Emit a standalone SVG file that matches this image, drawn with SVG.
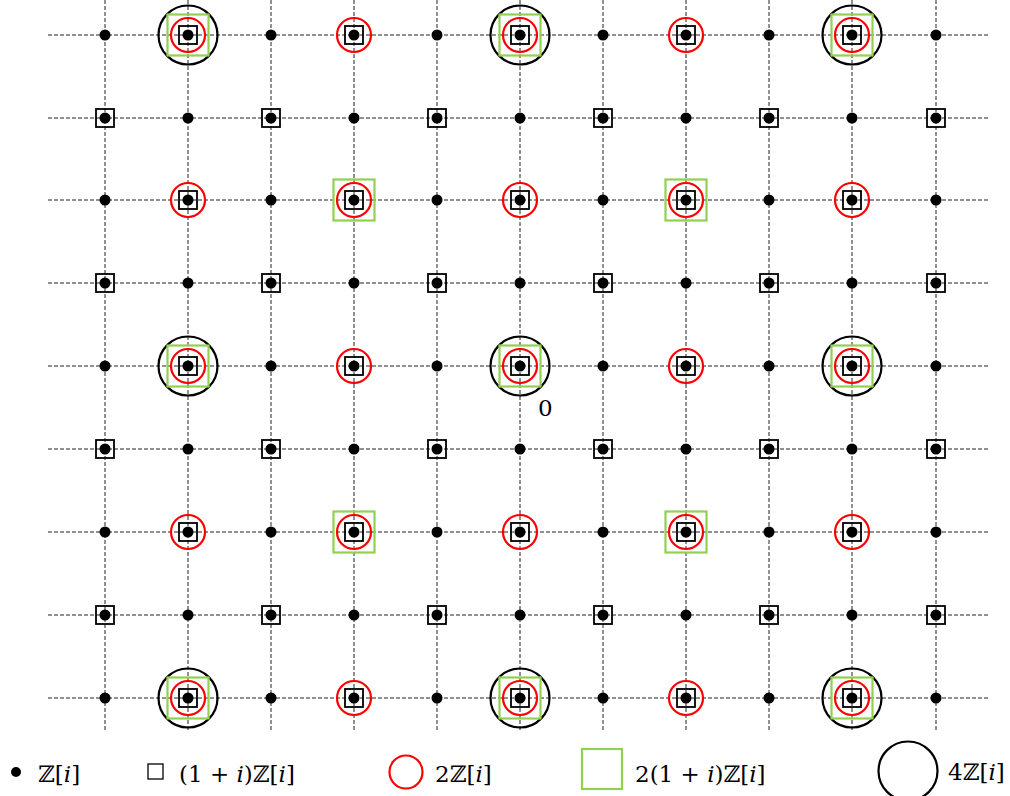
<svg xmlns="http://www.w3.org/2000/svg" xmlns:xlink="http://www.w3.org/1999/xlink" width="1010" height="796" viewBox="0 0 1010 796">
  <style>
    .grid line { stroke: #222; stroke-width: 1; stroke-dasharray: 4 2; }
    .dot { fill: #000; }
    .sq { fill: none; stroke: #000; stroke-width: 1.8; }
    .red { fill: none; stroke: #f00; stroke-width: 2.2; }
    .grn { fill: none; stroke: #92d050; stroke-width: 2.2; }
    .big { fill: none; stroke: #000; stroke-width: 2.2; }
    .lbl { font-family: "DejaVu Serif", "Liberation Serif", serif; font-size: 23px; fill: #000; }
  </style>
  <defs>
    <!-- marker stack: k0 Z[i], k1 (1+i)Z[i], k2 2Z[i], k3 2(1+i)Z[i], k4 4Z[i] -->
    <g id="k0"><circle r="5.5" class="dot"/></g>
    <g id="k1"><rect x="-9" y="-9" width="18" height="18" class="sq"/><use href="#k0"/></g>
    <g id="k2"><circle r="17" class="red"/><use href="#k1"/></g>
    <g id="k3"><rect x="-20.5" y="-20.5" width="41" height="41" class="grn"/><use href="#k2"/></g>
    <g id="k4"><circle r="29.5" class="big"/><use href="#k3"/></g>
  </defs>
  <rect width="1010" height="796" fill="#fff"/>

  <!-- dashed lattice lines -->
  <g id="connectors" class="grid">
    <line x1="48" y1="35" x2="988" y2="35"/>
    <line x1="48" y1="118" x2="988" y2="118"/>
    <line x1="48" y1="200" x2="988" y2="200"/>
    <line x1="48" y1="283" x2="988" y2="283"/>
    <line x1="48" y1="366" x2="988" y2="366"/>
    <line x1="48" y1="449" x2="988" y2="449"/>
    <line x1="48" y1="532" x2="988" y2="532"/>
    <line x1="48" y1="615" x2="988" y2="615"/>
    <line x1="48" y1="698" x2="988" y2="698"/>
    <line x1="105" y1="0" x2="105" y2="730"/>
    <line x1="188" y1="0" x2="188" y2="730"/>
    <line x1="271" y1="0" x2="271" y2="730"/>
    <line x1="354" y1="0" x2="354" y2="730"/>
    <line x1="437" y1="0" x2="437" y2="730"/>
    <line x1="520" y1="0" x2="520" y2="730"/>
    <line x1="603" y1="0" x2="603" y2="730"/>
    <line x1="686" y1="0" x2="686" y2="730"/>
    <line x1="769" y1="0" x2="769" y2="730"/>
    <line x1="852" y1="0" x2="852" y2="730"/>
    <line x1="936" y1="0" x2="936" y2="730"/>
  </g>

  <!-- lattice points, row 0 (Im = 4) -->
  <g id="pt-r0-c0"><use href="#k0" x="105" y="35"/></g>
  <g id="pt-r0-c1"><use href="#k4" x="188" y="35"/></g>
  <g id="pt-r0-c2"><use href="#k0" x="271" y="35"/></g>
  <g id="pt-r0-c3"><use href="#k2" x="354" y="35"/></g>
  <g id="pt-r0-c4"><use href="#k0" x="437" y="35"/></g>
  <g id="pt-r0-c5"><use href="#k4" x="520" y="35"/></g>
  <g id="pt-r0-c6"><use href="#k0" x="603" y="35"/></g>
  <g id="pt-r0-c7"><use href="#k2" x="686" y="35"/></g>
  <g id="pt-r0-c8"><use href="#k0" x="769" y="35"/></g>
  <g id="pt-r0-c9"><use href="#k4" x="852" y="35"/></g>
  <g id="pt-r0-c10"><use href="#k0" x="936" y="35"/></g>
  <!-- row 1 (Im = 3) -->
  <g id="pt-r1-c0"><use href="#k1" x="105" y="118"/></g>
  <g id="pt-r1-c1"><use href="#k0" x="188" y="118"/></g>
  <g id="pt-r1-c2"><use href="#k1" x="271" y="118"/></g>
  <g id="pt-r1-c3"><use href="#k0" x="354" y="118"/></g>
  <g id="pt-r1-c4"><use href="#k1" x="437" y="118"/></g>
  <g id="pt-r1-c5"><use href="#k0" x="520" y="118"/></g>
  <g id="pt-r1-c6"><use href="#k1" x="603" y="118"/></g>
  <g id="pt-r1-c7"><use href="#k0" x="686" y="118"/></g>
  <g id="pt-r1-c8"><use href="#k1" x="769" y="118"/></g>
  <g id="pt-r1-c9"><use href="#k0" x="852" y="118"/></g>
  <g id="pt-r1-c10"><use href="#k1" x="936" y="118"/></g>
  <!-- row 2 (Im = 2) -->
  <g id="pt-r2-c0"><use href="#k0" x="105" y="200"/></g>
  <g id="pt-r2-c1"><use href="#k2" x="188" y="200"/></g>
  <g id="pt-r2-c2"><use href="#k0" x="271" y="200"/></g>
  <g id="pt-r2-c3"><use href="#k3" x="354" y="200"/></g>
  <g id="pt-r2-c4"><use href="#k0" x="437" y="200"/></g>
  <g id="pt-r2-c5"><use href="#k2" x="520" y="200"/></g>
  <g id="pt-r2-c6"><use href="#k0" x="603" y="200"/></g>
  <g id="pt-r2-c7"><use href="#k3" x="686" y="200"/></g>
  <g id="pt-r2-c8"><use href="#k0" x="769" y="200"/></g>
  <g id="pt-r2-c9"><use href="#k2" x="852" y="200"/></g>
  <g id="pt-r2-c10"><use href="#k0" x="936" y="200"/></g>
  <!-- row 3 (Im = 1) -->
  <g id="pt-r3-c0"><use href="#k1" x="105" y="283"/></g>
  <g id="pt-r3-c1"><use href="#k0" x="188" y="283"/></g>
  <g id="pt-r3-c2"><use href="#k1" x="271" y="283"/></g>
  <g id="pt-r3-c3"><use href="#k0" x="354" y="283"/></g>
  <g id="pt-r3-c4"><use href="#k1" x="437" y="283"/></g>
  <g id="pt-r3-c5"><use href="#k0" x="520" y="283"/></g>
  <g id="pt-r3-c6"><use href="#k1" x="603" y="283"/></g>
  <g id="pt-r3-c7"><use href="#k0" x="686" y="283"/></g>
  <g id="pt-r3-c8"><use href="#k1" x="769" y="283"/></g>
  <g id="pt-r3-c9"><use href="#k0" x="852" y="283"/></g>
  <g id="pt-r3-c10"><use href="#k1" x="936" y="283"/></g>
  <!-- row 4 (Im = 0) -->
  <g id="pt-r4-c0"><use href="#k0" x="105" y="366"/></g>
  <g id="pt-r4-c1"><use href="#k4" x="188" y="366"/></g>
  <g id="pt-r4-c2"><use href="#k0" x="271" y="366"/></g>
  <g id="pt-r4-c3"><use href="#k2" x="354" y="366"/></g>
  <g id="pt-r4-c4"><use href="#k0" x="437" y="366"/></g>
  <g id="pt-r4-c5"><use href="#k4" x="520" y="366"/><text class="lbl" x="538" y="416" font-size="25">0</text></g>
  <g id="pt-r4-c6"><use href="#k0" x="603" y="366"/></g>
  <g id="pt-r4-c7"><use href="#k2" x="686" y="366"/></g>
  <g id="pt-r4-c8"><use href="#k0" x="769" y="366"/></g>
  <g id="pt-r4-c9"><use href="#k4" x="852" y="366"/></g>
  <g id="pt-r4-c10"><use href="#k0" x="936" y="366"/></g>
  <!-- row 5 (Im = -1) -->
  <g id="pt-r5-c0"><use href="#k1" x="105" y="449"/></g>
  <g id="pt-r5-c1"><use href="#k0" x="188" y="449"/></g>
  <g id="pt-r5-c2"><use href="#k1" x="271" y="449"/></g>
  <g id="pt-r5-c3"><use href="#k0" x="354" y="449"/></g>
  <g id="pt-r5-c4"><use href="#k1" x="437" y="449"/></g>
  <g id="pt-r5-c5"><use href="#k0" x="520" y="449"/></g>
  <g id="pt-r5-c6"><use href="#k1" x="603" y="449"/></g>
  <g id="pt-r5-c7"><use href="#k0" x="686" y="449"/></g>
  <g id="pt-r5-c8"><use href="#k1" x="769" y="449"/></g>
  <g id="pt-r5-c9"><use href="#k0" x="852" y="449"/></g>
  <g id="pt-r5-c10"><use href="#k1" x="936" y="449"/></g>
  <!-- row 6 (Im = -2) -->
  <g id="pt-r6-c0"><use href="#k0" x="105" y="532"/></g>
  <g id="pt-r6-c1"><use href="#k2" x="188" y="532"/></g>
  <g id="pt-r6-c2"><use href="#k0" x="271" y="532"/></g>
  <g id="pt-r6-c3"><use href="#k3" x="354" y="532"/></g>
  <g id="pt-r6-c4"><use href="#k0" x="437" y="532"/></g>
  <g id="pt-r6-c5"><use href="#k2" x="520" y="532"/></g>
  <g id="pt-r6-c6"><use href="#k0" x="603" y="532"/></g>
  <g id="pt-r6-c7"><use href="#k3" x="686" y="532"/></g>
  <g id="pt-r6-c8"><use href="#k0" x="769" y="532"/></g>
  <g id="pt-r6-c9"><use href="#k2" x="852" y="532"/></g>
  <g id="pt-r6-c10"><use href="#k0" x="936" y="532"/></g>
  <!-- row 7 (Im = -3) -->
  <g id="pt-r7-c0"><use href="#k1" x="105" y="615"/></g>
  <g id="pt-r7-c1"><use href="#k0" x="188" y="615"/></g>
  <g id="pt-r7-c2"><use href="#k1" x="271" y="615"/></g>
  <g id="pt-r7-c3"><use href="#k0" x="354" y="615"/></g>
  <g id="pt-r7-c4"><use href="#k1" x="437" y="615"/></g>
  <g id="pt-r7-c5"><use href="#k0" x="520" y="615"/></g>
  <g id="pt-r7-c6"><use href="#k1" x="603" y="615"/></g>
  <g id="pt-r7-c7"><use href="#k0" x="686" y="615"/></g>
  <g id="pt-r7-c8"><use href="#k1" x="769" y="615"/></g>
  <g id="pt-r7-c9"><use href="#k0" x="852" y="615"/></g>
  <g id="pt-r7-c10"><use href="#k1" x="936" y="615"/></g>
  <!-- row 8 (Im = -4) -->
  <g id="pt-r8-c0"><use href="#k0" x="105" y="698"/></g>
  <g id="pt-r8-c1"><use href="#k4" x="188" y="698"/></g>
  <g id="pt-r8-c2"><use href="#k0" x="271" y="698"/></g>
  <g id="pt-r8-c3"><use href="#k2" x="354" y="698"/></g>
  <g id="pt-r8-c4"><use href="#k0" x="437" y="698"/></g>
  <g id="pt-r8-c5"><use href="#k4" x="520" y="698"/></g>
  <g id="pt-r8-c6"><use href="#k0" x="603" y="698"/></g>
  <g id="pt-r8-c7"><use href="#k2" x="686" y="698"/></g>
  <g id="pt-r8-c8"><use href="#k0" x="769" y="698"/></g>
  <g id="pt-r8-c9"><use href="#k4" x="852" y="698"/></g>
  <g id="pt-r8-c10"><use href="#k0" x="936" y="698"/></g>

  <!-- legend -->
  <g id="legend-zi">
    <circle cx="16" cy="772" r="5" class="dot"/>
    <text class="lbl" x="38" y="782">ℤ[<tspan font-style="italic">i</tspan>]</text>
  </g>
  <g id="legend-1pi">
    <rect x="148" y="764" width="15" height="15" fill="none" stroke="#000" stroke-width="1.3"/>
    <text class="lbl" x="179" y="782">(1 + <tspan font-style="italic">i</tspan>)ℤ[<tspan font-style="italic">i</tspan>]</text>
  </g>
  <g id="legend-2zi">
    <circle cx="406" cy="772" r="16.5" class="red"/>
    <text class="lbl" x="435" y="782">2ℤ[<tspan font-style="italic">i</tspan>]</text>
  </g>
  <g id="legend-21pi">
    <rect x="582" y="749" width="40" height="40" class="grn"/>
    <text class="lbl" x="635" y="782">2(1 + <tspan font-style="italic">i</tspan>)ℤ[<tspan font-style="italic">i</tspan>]</text>
  </g>
  <g id="legend-4zi">
    <circle cx="908" cy="771" r="29.5" class="big"/>
    <text class="lbl" x="948" y="780">4ℤ[<tspan font-style="italic">i</tspan>]</text>
  </g>
</svg>
